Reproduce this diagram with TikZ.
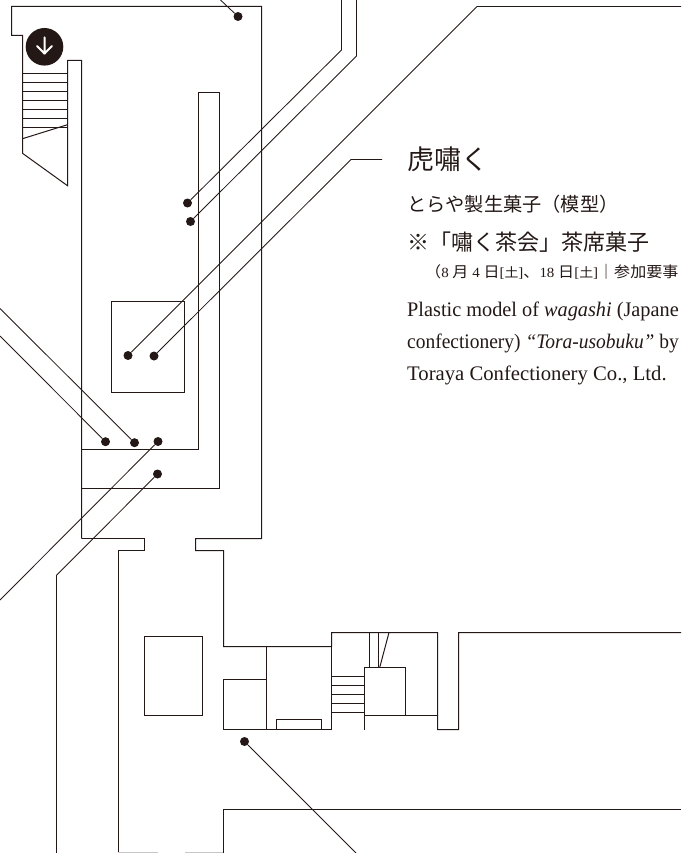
\documentclass[tikz,border=0pt]{standalone}
\usepackage{fontspec}
\setmainfont{Liberation Serif}
\newfontfamily\jpf{Noto Sans CJK JP}
\definecolor{ink}{HTML}{231815}
\tikzset{
  wall/.style={draw=ink,line width=1pt,line join=miter},
  leader/.style={draw=ink,line width=0.85pt},
  dot/.style={circle,fill=ink,inner sep=0pt,minimum size=9pt},
  label/.style={anchor=base west,inner sep=0pt,text=ink},
}
\begin{document}
\begin{tikzpicture}[x=1pt,y=-1pt]
\useasboundingbox (0,0) rectangle (681,853);
\clip (0,0) rectangle (681,853);
% walls: upper room
\draw[wall] (81.5,538.5) -- (81.5,60.5) -- (67.5,60.5) -- (67.5,185.7) -- (22.5,153.3) -- (22.5,35.5) -- (11.5,35.5) -- (11.5,6.5) -- (261.5,6.5) -- (261.5,538.5) -- (195.5,538.5) -- (195.5,550.5) -- (223.5,550.5) -- (223.5,646.5) -- (331.5,646.5) -- (331.5,632.5) -- (437.5,632.5) -- (437.5,729.5) -- (458.5,729.5) -- (458.5,632.5) -- (681,632.5);
\draw[wall] (81.5,538.5) -- (144.5,538.5) -- (144.5,550.5) -- (118.5,550.5) -- (118.5,853);
% stair at top left
\foreach \yy in {73.5,82.5,91.5,100.5,109.5,118.5,127.5}
  \draw[wall] (22.5,\yy) -- (67.5,\yy);
\draw[wall] (22.5,138.7) -- (67.5,124.7);
% inner partitions
\draw[wall] (81.5,449.5) -- (198.5,449.5) -- (198.5,92.5) -- (219.5,92.5) -- (219.5,488.5) -- (81.5,488.5);
\draw[wall] (111.5,301.5) rectangle (184.5,392.5);
% lower rooms
\draw[wall] (144.5,636.5) rectangle (202.5,715.5);
\draw[wall] (223.5,679.5) rectangle (266.5,729.5);
\draw[wall] (266.5,646.5) -- (266.5,729.5) -- (331.5,729.5) -- (331.5,646.5);
\draw[wall] (276.5,729.5) -- (276.5,719.5) -- (321.5,719.5) -- (321.5,729.5);
\foreach \yy in {676.5,685.5,694.5,703.5,712.5}
  \draw[wall] (331.5,\yy) -- (364.5,\yy);
\draw[wall] (364.5,667.5) rectangle (405.5,715.5);
\draw[wall] (364.5,715.5) -- (364.5,729.5);
\draw[wall] (405.5,715.5) -- (437.5,715.5);
\draw[wall] (369.5,632.5) -- (369.5,667.5);
\draw[wall] (378.5,632.5) -- (378.5,667.5);
\draw[wall] (389,632.5) -- (379.7,667.5);
\draw[wall] (223.5,853) -- (223.5,809.5) -- (681,809.5);
\draw[wall] (56.5,853) -- (56.5,575.3);
\draw[draw=ink!25,line width=0.8pt] (118,852.6) -- (158,852.6) (185,852.6) -- (223,852.6);
% down-stairs marker
\node[circle,fill=ink,inner sep=0pt,minimum size=37.6pt] (mark) at (44.5,46.8) {};
\draw[white,line width=2pt,line cap=round,line join=round] (44.5,37.3) -- (44.5,53.6) (37,46) -- (44.5,53.6) -- (52,46);
% dots
\node[dot] (a) at (238,16.5) {};
\node[dot] (b) at (187.5,203) {};
\node[dot] (c) at (190.5,221.5) {};
\node[dot] (d) at (128,355.5) {};
\node[dot] (e) at (154,356) {};
\node[dot] (f) at (105.5,441.7) {};
\node[dot] (g) at (134.5,442.7) {};
\node[dot] (h) at (158,441.5) {};
\node[dot] (i) at (157.5,474) {};
\node[dot] (j) at (244.5,741.5) {};
% free ends and bends
\coordinate (a0) at (220.5,0);
\coordinate (b1) at (341.5,50);  \coordinate (b0) at (341.5,0);
\coordinate (c1) at (356.5,56);  \coordinate (c0) at (356.5,0);
\coordinate (d1) at (477,6.5); \coordinate (d0) at (681,6.5);
\coordinate (e1) at (351,159.5); \coordinate (e0) at (382,159.5);
\coordinate (f0) at (0,336);
\coordinate (g0) at (0,308.5);
\coordinate (h0) at (0,600);
\coordinate (i1) at (56.5,575.3);
\coordinate (j0) at (356,853);
\draw[leader] (a) -- (a0);
\draw[leader] (b) -- (b1) -- (b0);
\draw[leader] (c) -- (c1) -- (c0);
\draw[leader] (d) -- (d1) -- (d0);
\draw[leader] (e) -- (e1) -- (e0);
\draw[leader] (f) -- (f0);
\draw[leader] (g) -- (g0);
\draw[leader] (h) -- (h0);
\draw[leader] (i) -- (i1);
\draw[leader] (j) -- (j0);
% text
\node[label,font=\jpf\fontsize{27}{27}\selectfont] (t1) at (407,170) {虎嘯く};
\node[label,font=\jpf\fontsize{19.2}{19}\selectfont] (t2) at (407,211.5) {とらや製生菓子（模型）};
\node[label,font=\jpf\fontsize{22}{22}\selectfont] (t3) at (407,250) {※「嘯く茶会」茶席菓子};
\node[label,font=\fontsize{14}{14}\selectfont] (t4) at (425,277.5) {\scalebox{1.07}[1]{{\jpf\fontsize{15}{15}\selectfont （}8 {\jpf\fontsize{15}{15}\selectfont 月} 4 {\jpf\fontsize{15}{15}\selectfont 日}[{\jpf\fontsize{13}{15}\selectfont 土}]{\jpf\fontsize{15}{15}\selectfont 、}18 {\jpf\fontsize{15}{15}\selectfont 日}[{\jpf\fontsize{13}{15}\selectfont 土}]{\jpf\fontsize{15}{15}\selectfont ｜参加要事}}};
\node[label,font=\fontsize{20.7}{20.7}\selectfont] (t5) at (407,316.7) {\scalebox{0.98}[1]{Plastic model of \textit{wagashi} (Japane}};
\node[label,font=\fontsize{20.7}{20.7}\selectfont] (t6) at (407,348.7) {\scalebox{0.94}[1]{confectionery) \textit{“Tora-usobuku”} by}};
\node[label,font=\fontsize{20.7}{20.7}\selectfont] (t7) at (407,380.7) {Toraya Confectionery Co., Ltd.};
\end{tikzpicture}
\end{document}
